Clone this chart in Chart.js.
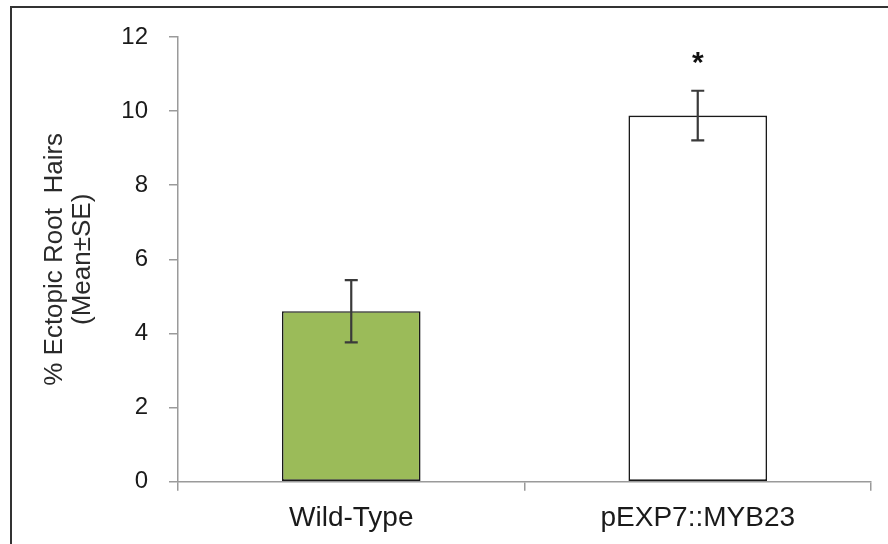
<!DOCTYPE html>
<html>
<head>
<meta charset="utf-8">
<script src="https://cdn.jsdelivr.net/npm/chart.js@4.4.1/dist/chart.umd.min.js"></script>
<style>
  html, body { margin: 0; padding: 0; background: #fff; overflow: hidden; }
  #frame {
    position: absolute; left: 10px; top: 6px; width: 900px; height: 560px;
    border-left: 2px solid #333; border-top: 2px solid #333;
  }
  #wrap { position: absolute; left: 0; top: 0; width: 888px; height: 544px; }
</style>
</head>
<body>
<div id="frame"></div>
<div id="wrap"><canvas id="c" width="888" height="544"></canvas></div>
<script>
// Genotypes compared
const categories = ['Wild-Type', 'pEXP7::MYB23'];
// Mean percentage of ectopic root hairs and standard error
const meanValues = [4.6, 9.88];
const seValues = [0.84, 0.67];
// Significance markers shown above each bar
const sigMarks = ['', '*'];
// Y axis ticks
const yTicks = [0, 2, 4, 6, 8, 10, 12];

const FONT = '"Liberation Sans", Arial, sans-serif';

const errorBars = {
  id: 'errorBars',
  afterDatasetsDraw(chart) {
    const ctx = chart.ctx;
    const y = chart.scales.y;
    const meta = chart.getDatasetMeta(0);
    ctx.save();
    meta.data.forEach((bar, i) => {
      const x = bar.x;
      const top = y.getPixelForValue(meanValues[i] + seValues[i]);
      const bot = y.getPixelForValue(meanValues[i] - seValues[i]);
      ctx.strokeStyle = '#3a3a3a';
      ctx.lineWidth = 2.2;
      ctx.beginPath();
      ctx.moveTo(x, top); ctx.lineTo(x, bot);
      ctx.moveTo(x - 6.5, top); ctx.lineTo(x + 6.5, top);
      ctx.moveTo(x - 6.5, bot); ctx.lineTo(x + 6.5, bot);
      ctx.stroke();
      if (sigMarks[i]) {
        ctx.fillStyle = '#111';
        ctx.font = 'bold 30px ' + FONT;
        ctx.textAlign = 'center';
        ctx.textBaseline = 'alphabetic';
        ctx.fillText(sigMarks[i], x, top - 19);
      }
    });
    ctx.restore();
  }
};

new Chart(document.getElementById('c'), {
  type: 'bar',
  data: {
    labels: categories,
    datasets: [{
      data: meanValues,
      backgroundColor: ['#9BBB59', '#FFFFFF'],
      borderColor: '#1a1a1a',
      borderWidth: 1.6,
      borderSkipped: false,
      categoryPercentage: 1.0,
      barPercentage: 0.4
    }]
  },
  options: {
    responsive: false,
    animation: false,
    layout: { padding: { top: 37, right: 17, left: 0, bottom: 0 } },
    plugins: { legend: { display: false }, tooltip: { enabled: false } },
    scales: {
      x: {
        afterFit(s) { s.height = 62.3; },
        grid: { display: true, offset: true, drawOnChartArea: false, drawTicks: true, tickLength: 9, color: '#9a9a9a', lineWidth: 1.5 },
        border: { display: true, color: '#9a9a9a', width: 1.5 },
        ticks: { color: '#1a1a1a', padding: 11, font: { family: FONT, size: 28 } }
      },
      y: {
        min: 0, max: 12,
        afterFit(s) { s.width = 178; },
        afterBuildTicks(s) { s.ticks = yTicks.map(v => ({ value: v })); },
        grid: { display: true, drawOnChartArea: false, drawTicks: true, tickLength: 9, color: '#9a9a9a', lineWidth: 1.5 },
        border: { display: true, color: '#9a9a9a', width: 1.5 },
        ticks: { color: '#1a1a1a', padding: 21, font: { family: FONT, size: 24 } },
        title: {
          display: true,
          text: ['% Ectopic Root  Hairs', '(Mean±SE)'],
          color: '#2a2a2a',
          font: { family: FONT, size: 26, lineHeight: 1.06 },
          padding: { top: 41, bottom: 0 }
        }
      }
    }
  },
  plugins: [errorBars]
});
</script>
</body>
</html>
